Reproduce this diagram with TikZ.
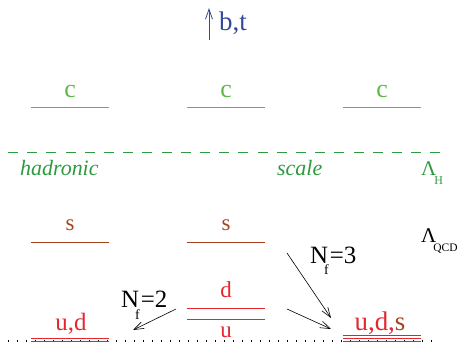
\documentclass[tikz,border=0pt]{standalone}
\usepackage{fontspec}
\setmainfont{Liberation Serif}
\usetikzlibrary{arrows.meta}
\definecolor{lvgreen}{HTML}{5DB847}
\definecolor{dkgreen}{HTML}{2E9A3F}
\definecolor{sbrown}{HTML}{A3441F}
\definecolor{udred}{HTML}{E5262E}
\definecolor{btblue}{HTML}{35489A}

\newcommand{\fsz}[1]{\fontsize{#1}{#1}\selectfont}

\begin{document}
\begin{tikzpicture}[x=1bp, y=-1bp, >={Straight Barb[length=10bp,width=7bp]},
  font=\fsz{22},
  lbl/.style={anchor=base, inner sep=0pt},
  lvl/.style={line width=0.9bp}]
\useasboundingbox (0,0) rectangle (460,343);

%%% Top: heavy quarks
\coordinate (btlow) at (209,40);
\coordinate (bthigh) at (209,8);
\draw[->, btblue, line width=0.8bp] (btlow) -- (bthigh);
\node[lbl, btblue, anchor=base west, font=\fsz{27}] (bt) at (219,30) {b,t};

% c levels
\foreach \cx/\nm in {70/cL, 226/cM, 382/cR} {
  \draw[lvl, lvgreen] (\cx-39,107) -- (\cx+39,107);
  \node[lbl, lvgreen, font=\fsz{26}] (\nm) at (\cx,97) {c};
}

%%% Hadronic scale
\draw[dkgreen, line width=1bp, dash pattern=on 10bp off 9.2bp] (8,152) -- (445,152);
\node[lbl, dkgreen, anchor=base west, font=\fsz{22}\itshape] (had) at (20,175) {hadronic};
\node[lbl, dkgreen, anchor=base west, font=\fsz{22}\itshape] (scl) at (277,175) {scale};
\node[lbl, dkgreen, anchor=base west, font=\fsz{21}] (LamH) at (421,175)
  {Λ\kern-2pt\raisebox{-10pt}{\fsz{12}H}};

%%% Strange quark
\foreach \cx/\nm in {70/sL, 226/sM} {
  \draw[lvl, sbrown] (\cx-39,242) -- (\cx+39,242);
  \node[lbl, sbrown, font=\fsz{23}] (\nm) at (\cx,230) {s};
}
\node[lbl, anchor=base west, font=\fsz{21}] (LamQ) at (421,242)
  {Λ\kern-3pt\raisebox{-10pt}{\fsz{11.5}QCD}};

%%% Light quarks
\draw[black, line width=1.2bp, dash pattern=on 1.2bp off 7.8bp] (8,341) -- (440,341);

% middle: split u and d
\draw[lvl, udred] (187,308) -- (265,308);
\draw[lvl, udred] (187,319) -- (265,319);
\node[lbl, udred, font=\fsz{23}] (dM) at (226,297) {d};
\node[lbl, udred, font=\fsz{23}] (uM) at (226,337) {u};

% left: u,d degenerate
\draw[lvl, udred] (31,338) -- (109,338);
\draw[lvl, udred] (31,341) -- (109,341);
\node[lbl, udred, font=\fsz{25}] (udL) at (71,330) {u,d};

% right: u,d,s degenerate
\draw[lvl, sbrown] (343,335.5) -- (421,335.5);
\draw[lvl, udred] (343,338.3) -- (421,338.3);
\draw[lvl, udred] (343,341) -- (421,341);
\node[lbl, font=\fsz{27}] (udsR) at (380,330) {\textcolor{udred}{u,d,}\textcolor{sbrown}{s}};

%%% Flavour arrows
\coordinate (nf2from) at (176,309);
\coordinate (nf2to) at (133,330);
\draw[->, line width=0.6bp] (nf2from) -- (nf2to);
\node[lbl, anchor=base west, font=\fsz{25}] (nf2) at (121,307)
  {N\kern-4pt\raisebox{-13pt}{\fsz{14}f}\kern1pt=2};

\coordinate (nf3froma) at (287,253);
\coordinate (nf3toa) at (331,318);
\coordinate (nf3fromb) at (287,309);
\coordinate (nf3tob) at (331,329);
\draw[->, line width=0.6bp] (nf3froma) -- (nf3toa);
\draw[->, line width=0.6bp] (nf3fromb) -- (nf3tob);
\node[lbl, anchor=base west, font=\fsz{25}] (nf3) at (310,263)
  {N\kern-4pt\raisebox{-12pt}{\fsz{14}f}\kern1pt=3};

\end{tikzpicture}
\end{document}
